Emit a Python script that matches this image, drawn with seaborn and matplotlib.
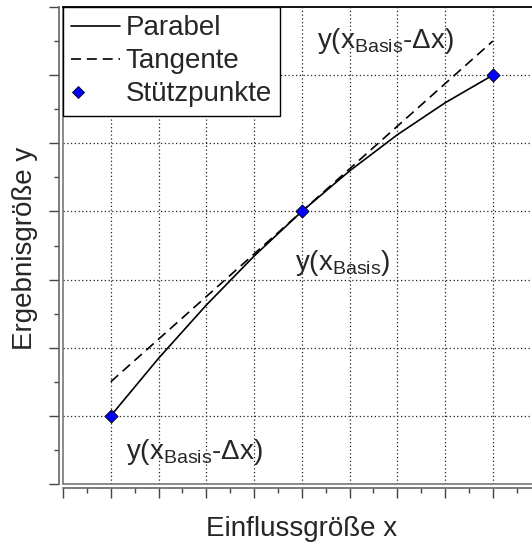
import numpy as np
import matplotlib
matplotlib.use("Agg")
import matplotlib.pyplot as plt
from matplotlib.lines import Line2D
from matplotlib.legend_handler import HandlerLine2DCompound
import seaborn as sns

# Support points (Stützpunkte)
x_points = [1, 5, 9]
y_points = [1, 4, 6]

# Parabola through the support points, sampled at whole x values
x_parabel = [1, 2, 3, 4, 5, 6, 7, 8, 9]
y_parabel = [1.0, 1.844, 2.625, 3.344, 4.0, 4.594, 5.125, 5.594, 6.0]

# Tangent at the base point x = 5
x_tangente = [1, 9]
y_tangente = [1.5, 6.5]

label_parabel = "Parabel"
label_tangente = "Tangente"
label_punkte = "Stützpunkte"
x_title = "Einflussgröße x"
y_title = "Ergebnisgröße y"

sns.set_style("white")
plt.rcParams["font.family"] = ["Liberation Sans", "DejaVu Sans"]
plt.rcParams["mathtext.fontset"] = "custom"
plt.rcParams["mathtext.rm"] = "Liberation Sans"
plt.rcParams["mathtext.it"] = "Liberation Sans"

W, H = 532, 548
fig = plt.figure(figsize=(W / 100, H / 100), dpi=100)
ax = fig.add_axes([63 / W, (H - 484) / H, (W - 63) / W, 477 / H])

fs = 20

sns.lineplot(x=x_parabel, y=y_parabel, ax=ax, color="black", lw=1.2,
             sort=False, legend=False)
sns.lineplot(x=x_tangente, y=y_tangente, ax=ax, color="black", lw=1.2,
             sort=False, legend=False, linestyle=(0, (6, 3.5)))
sns.scatterplot(x=x_points, y=y_points, ax=ax, marker="D", s=45,
                color="#0000ff", edgecolor="black", linewidth=0.6,
                zorder=5, legend=False)

ax.set_xlim(0, 9.82)
ax.set_ylim(0, 7)
ax.set_xticks(np.arange(0, 10, 1))
ax.set_xticks(np.arange(0.5, 10, 1), minor=True)
ax.set_yticks(np.arange(0, 8, 1))
ax.set_yticks(np.arange(0.5, 7, 1), minor=True)
ax.set_xticklabels([])
ax.set_yticklabels([])
ax.tick_params(which="major", direction="out", length=7, width=1.0,
               color="#444444", bottom=True, left=True)
ax.tick_params(which="minor", direction="out", length=3.5, width=1.0,
               color="#444444", bottom=True, left=True)

# dotted grid at the major ticks
for gx in range(1, 10):
    ax.axvline(gx, color="#222222", lw=0.9, ls=(0, (1, 2)), zorder=0)
for gy in range(1, 7):
    ax.axhline(gy, color="#222222", lw=0.9, ls=(0, (1, 2)), zorder=0)

# frame: doubled grey axis lines at left and bottom, black top
for side in ("left", "bottom"):
    ax.spines[side].set_position(("outward", 2.6))
    ax.spines[side].set_color("#666666")
    ax.spines[side].set_linewidth(1.2)
ax.spines["top"].set_color("black")
ax.spines["top"].set_linewidth(1.3)
ax.spines["right"].set_visible(False)
ax.axvline(0, color="#777777", lw=1.2, clip_on=False, zorder=1)
ax.axhline(0, color="#777777", lw=1.2, clip_on=False, zorder=1)

ax.set_xlabel(x_title, fontsize=fs)
ax.set_ylabel(y_title, fontsize=fs)
ax.xaxis.set_label_coords((302 - 63) / (W - 63), -(516 - 484) / 477)
ax.yaxis.set_label_coords(-(63 - 38) / (W - 63), (484 - 248) / 477)

ann = r"y(x$_\mathregular{Basis}$-Δx)"
ann_mid = r"y(x$_\mathregular{Basis}$)"
ax.text(5.31, 6.40, ann, fontsize=fs, ha="left", va="baseline")
ax.text(4.85, 3.14, ann_mid, fontsize=fs, ha="left", va="baseline")
ax.text(1.32, 0.37, ann, fontsize=fs, ha="left", va="baseline")


class LeftMarkerHandler(HandlerLine2DCompound):
    def get_xdata(self, legend, xdescent, ydescent, width, height, fontsize):
        xdata = [-xdescent, -xdescent + width]
        return xdata, [-xdescent + 0.13 * width]


handles = [
    Line2D([], [], color="black", lw=1.2),
    Line2D([], [], color="black", lw=1.2, ls=(0, (6, 3.5))),
    Line2D([], [], ls="none", marker="D", markersize=6.5,
           markerfacecolor="#0000ff", markeredgecolor="black",
           markeredgewidth=0.6),
]
leg = ax.legend(handles, [label_parabel, label_tangente, label_punkte],
                loc="upper left", bbox_to_anchor=(0, 1), fontsize=fs,
                frameon=True, fancybox=False, framealpha=1,
                edgecolor="black", borderpad=0.3, labelspacing=0.25,
                handlelength=1.75, handletextpad=0.2, borderaxespad=0,
                handler_map={handles[2]: LeftMarkerHandler(numpoints=1)})
leg.get_frame().set_linewidth(1.0)

fig.savefig("out.png", dpi=100)
